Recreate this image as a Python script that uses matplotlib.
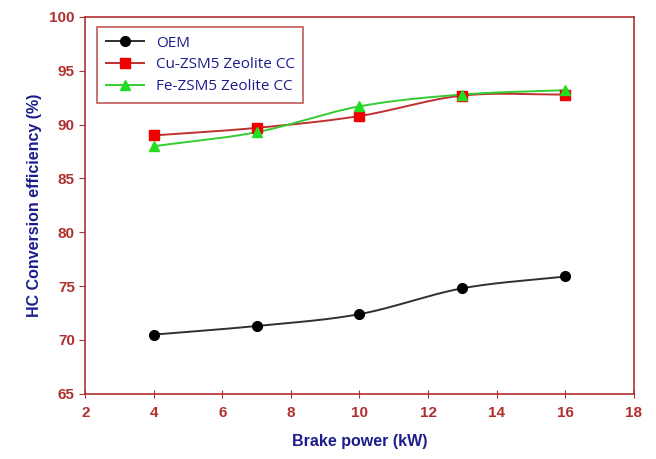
import numpy as np
import matplotlib.pyplot as plt

power = [4, 7, 10, 13, 16]
oem = [70.5, 71.3, 72.4, 74.8, 75.9]
cu_zsm5 = [89.0, 89.7, 90.8, 92.7, 92.8]
fe_zsm5 = [88.0, 89.3, 91.7, 92.8, 93.2]

red = '#b03030'
navy = '#1c1c8c'


def smooth(x, y, n=200):
    # Catmull-Rom style curve through the points, just for the drawn line
    x = np.asarray(x, float)
    y = np.asarray(y, float)
    m = np.gradient(y, x)
    xs, ys = [], []
    for i in range(len(x) - 1):
        h = x[i + 1] - x[i]
        t = np.linspace(0, 1, n // len(x))
        h00 = 2*t**3 - 3*t**2 + 1
        h10 = t**3 - 2*t**2 + t
        h01 = -2*t**3 + 3*t**2
        h11 = t**3 - t**2
        xs.append(x[i] + t*h)
        ys.append(h00*y[i] + h10*h*m[i] + h01*y[i + 1] + h11*h*m[i + 1])
    return np.concatenate(xs), np.concatenate(ys)


fig = plt.figure(figsize=(6.56, 4.59), dpi=100)
ax = fig.add_axes([0.130, 0.142, 0.836, 0.821])

series = [
    (oem, 'OEM', '#000000', 'o', '#303030'),
    (cu_zsm5, 'Cu-ZSM5 Zeolite CC', '#ee0000', 's', '#c03030'),
    (fe_zsm5, 'Fe-ZSM5 Zeolite CC', '#22dd22', '^', '#33cc33'),
]
for vals, name, mc, mk, lc in series:
    sx, sy = smooth(power, vals)
    ax.plot(sx, sy, color=lc, lw=1.4, zorder=2)
    ax.plot(power, vals, ls='none', marker=mk, color=mc, ms=7, zorder=3)
    ax.plot([], [], color=lc, lw=1.4, marker=mk, mfc=mc, mec=mc, ms=7, label=name)

ax.set_xlim(2, 18)
ax.set_ylim(65, 100)
ax.set_xticks(range(2, 19, 2))
ax.set_yticks(range(65, 101, 5))

for s in ax.spines.values():
    s.set_color(red)
    s.set_linewidth(1.2)
ax.tick_params(axis='x', direction='inout', length=6, color=red, labelcolor=red, pad=6)
ax.tick_params(axis='y', direction='out', length=4, color=red, labelcolor=red)
for lab in ax.get_xticklabels() + ax.get_yticklabels():
    lab.set_fontweight('bold')
    lab.set_fontsize(11)
    lab.set_family('Liberation Sans')

ax.set_xlabel('Brake power (kW)', color=navy, fontsize=11.5, fontweight='bold',
              family='Liberation Sans', labelpad=10)
ax.set_ylabel('HC Conversion efficiency (%)', color=navy, fontsize=11.5,
              fontweight='bold', family='Liberation Sans', labelpad=5)

leg = ax.legend(loc='upper left', bbox_to_anchor=(0.022, 0.973), borderaxespad=0,
                fancybox=False, edgecolor=red, handlelength=2.5,
                prop={'family': 'Open Sans', 'size': 11}, labelspacing=0.45,
                borderpad=0.55)
leg.get_frame().set_linewidth(1.2)
for t in leg.get_texts():
    t.set_color(navy)

fig.savefig('out.png', dpi=100)
